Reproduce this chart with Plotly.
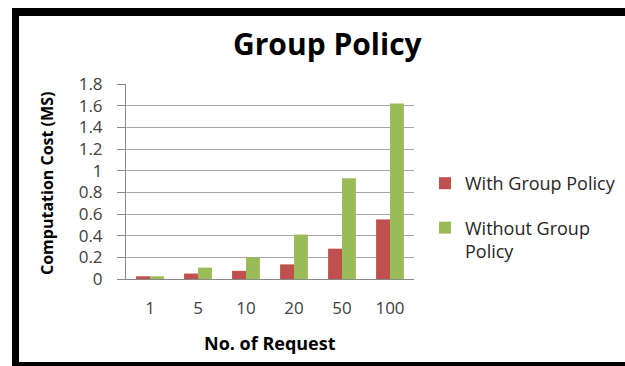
import plotly.graph_objects as go

categories = ["1", "5", "10", "20", "50", "100"]
with_group_policy = [0.025, 0.05, 0.075, 0.135, 0.28, 0.55]
without_group_policy = [0.025, 0.105, 0.2, 0.41, 0.93, 1.62]
y_ticks = [0, 0.2, 0.4, 0.6, 0.8, 1, 1.2, 1.4, 1.6, 1.8]
y_tick_labels = ["0", "0.2", "0.4", "0.6", "0.8", "1", "1.2", "1.4", "1.6", "1.8"]

W, H = 625, 366
L, R, T, B = 126, 414, 84, 279
FONT = "'Open Sans', Lato, sans-serif"


def fx(px):
    return (px - L) / (R - L)


def fy(py):
    return (B - py) / (B - T)


fig = go.Figure()
fig.add_trace(go.Bar(x=categories, y=with_group_policy, name="With Group Policy",
                     marker=dict(color="#C0504D", line=dict(width=0)), legendgroup="a"))
fig.add_trace(go.Bar(x=categories, y=without_group_policy, name="Without Group<br>Policy",
                     marker=dict(color="#9BBB59", line=dict(width=0)), legendgroup="b"))

fig.update_layout(
    width=W, height=H,
    margin=dict(l=L, r=W - R, t=T, b=H - B, autoexpand=False),
    paper_bgcolor="white", plot_bgcolor="white",
    barmode="group", bargap=0.42, bargroupgap=0,
    font=dict(family=FONT, color="#404040"),
    showlegend=True,
    legend=dict(x=fx(425), y=fy(165), xanchor="left", yanchor="top",
                font=dict(size=18, color="#262626", family=FONT),
                tracegroupgap=18, valign="top", bgcolor="rgba(0,0,0,0)",
                itemclick=False),
    xaxis=dict(type="category", showgrid=False, showline=True, linecolor="#888888",
               linewidth=1, ticks="", tickfont=dict(size=17, color="#404040"),
               ticklabelstandoff=14),
    yaxis=dict(range=[0, 1.8], tickvals=y_ticks, ticktext=y_tick_labels,
               showgrid=True, gridcolor="#a6a6a6", gridwidth=1,
               showline=True, linecolor="#888888", linewidth=1,
               ticks="outside", ticklen=8, tickcolor="#888888",
               tickfont=dict(size=17, color="#404040"), ticklabelstandoff=11,
               zeroline=False),
)

annotations = [
    dict(text="<b>Group Policy</b>", x=fx(328), y=fy(43), font=dict(size=30, color="#000000")),
    dict(text="<b>No. of Request</b>", x=fx(270), y=fy(343), font=dict(size=18, color="#000000")),
    dict(text="<b>Computation Cost (MS)</b>", x=fx(47), y=fy(184), textangle=-90,
         font=dict(size=16, color="#000000")),
]
for a in annotations:
    a.update(xref="paper", yref="paper", showarrow=False, xanchor="center", yanchor="middle")
fig.update_layout(annotations=annotations)

# black frame around the picture
frame = [
    (12, 8, 19, 370),
    (12, 8, 630, 16),
    (12, 362, 630, 370),
]
for x0, y0, x1, y1 in frame:
    fig.add_shape(type="rect", xref="paper", yref="paper",
                  x0=fx(x0), x1=fx(x1), y0=fy(y0), y1=fy(y1),
                  fillcolor="black", line=dict(width=0), layer="above")

fig.write_html("out.html")
